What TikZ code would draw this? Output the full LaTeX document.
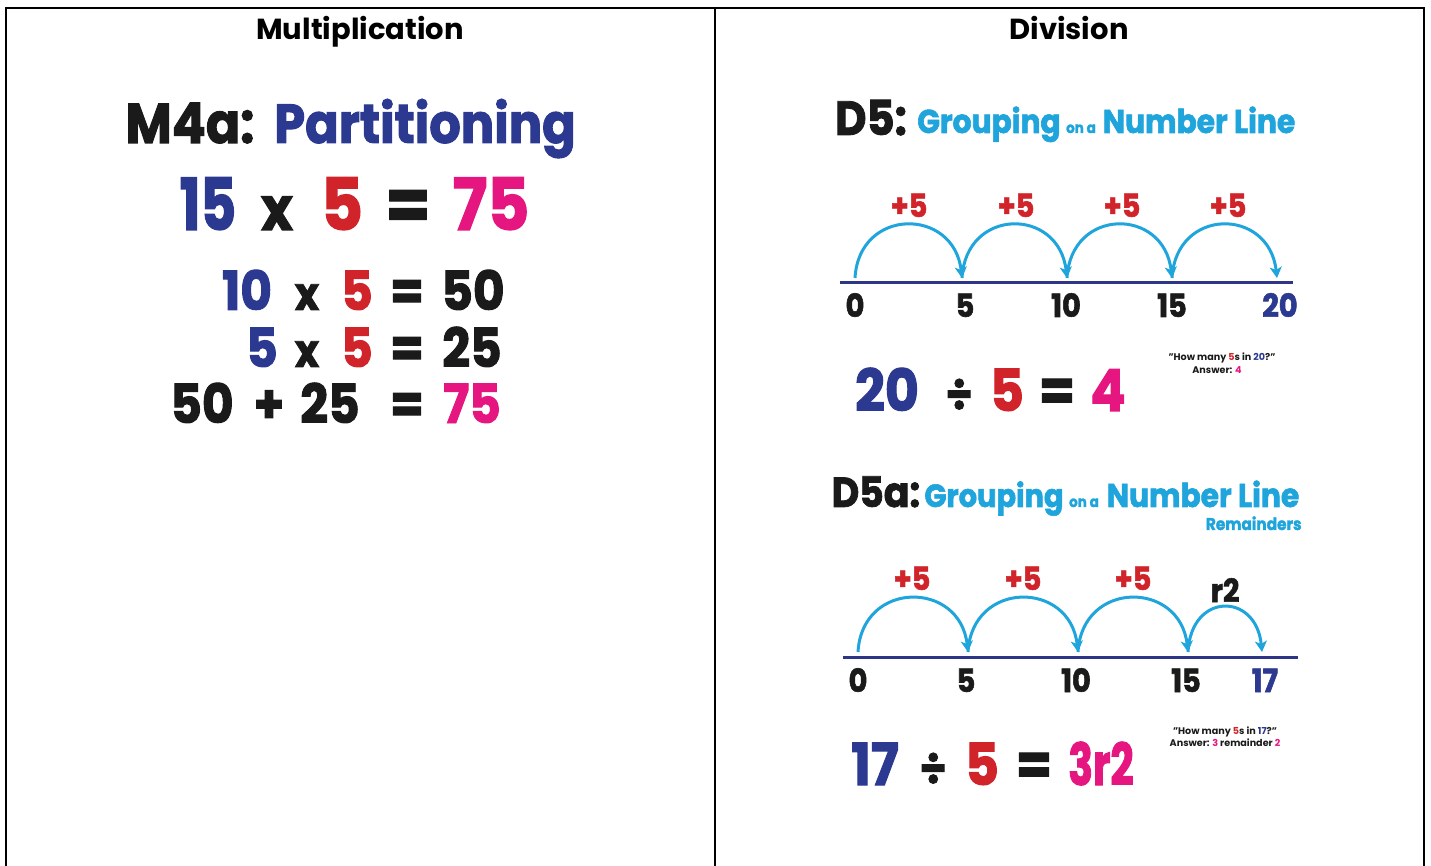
\documentclass[tikz,border=0pt]{standalone}
\usepackage{fontspec}
\setmainfont{Poppins}
\newfontfamily\disp{Poppins}[FakeStretch=0.9,FakeBold=1.8]
\usetikzlibrary{arrows.meta}
\definecolor{dblue}{HTML}{2B3990}
\definecolor{nred}{HTML}{D1232A}
\definecolor{mag}{HTML}{E5167F}
\definecolor{cyanb}{HTML}{1FA4DC}
\definecolor{lineblue}{HTML}{2E3586}
\definecolor{ink}{HTML}{1A1A1A}
\newcommand{\fsz}[1]{\fontsize{#1}{#1}\selectfont}
\tikzset{
  border/.style={line width=1pt, black},
  header/.style={anchor=base, font=\bfseries\fsz{14.5}, text=black, inner sep=0pt},
  dtxt/.style={anchor=base, inner sep=0pt, font=\disp\bfseries\fsz{#1}},
  nline/.style={line width=1.5pt, lineblue},
  jump/.style={line width=1.5pt, cyanb, -{Stealth[length=5.5pt,width=6pt,inset=1.5pt]}},
  small/.style={anchor=base, inner sep=0pt, font=\bfseries\fsz{4.8}, text=ink},
}
\begin{document}
\begin{tikzpicture}[x=0.5pt,y=-0.5pt]
\useasboundingbox (0,0) rectangle (1431,866);
% table borders
\draw[border] (6,866) -- (6,8) -- (1424,8) -- (1424,866);
\draw[border] (715,8) -- (715,866);
% headers
\node[header] (hmul) at (360,40) {Multiplication};
\node[header] (hdiv) at (1069,40) {Division};

% ---------- Multiplication ----------
\node[dtxt=28, text=ink] (m4a) at (190,143) {M4a:};
\node[dtxt=27.5, text=dblue] (part) at (425,143) {Partitioning};

\node[dtxt=36, text=dblue] (e1a) at (208,230) {\scalebox{0.85}[1]{15}};
\node[dtxt=30, text=ink] (e1b) at (277,230) {x};
\node[dtxt=36, text=nred] (e1c) at (342,230) {5};
\node[dtxt=36, text=ink] (e1d) at (408,230) {=};
\node[dtxt=36, text=mag] (e1e) at (491,230) {75};

\node[dtxt=27, text=dblue] (e2a) at (247,310) {10};
\node[dtxt=23, text=ink] (e2b) at (307,310) {x};
\node[dtxt=27, text=nred] (e2c) at (357,310) {5};
\node[dtxt=27, text=ink] (e2d) at (407,310) {=};
\node[dtxt=27, text=ink] (e2e) at (473,310) {50};

\node[dtxt=27, text=dblue] (e3a) at (262,367) {5};
\node[dtxt=23, text=ink] (e3b) at (307,367) {x};
\node[dtxt=27, text=nred] (e3c) at (357,367) {5};
\node[dtxt=27, text=ink] (e3d) at (407,367) {=};
\node[dtxt=27, text=ink] (e3e) at (472,367) {25};

\node[dtxt=27, text=ink] (e4a) at (202,423) {50};
\node[dtxt=27, text=ink] (e4b) at (269,423) {+};
\node[dtxt=27, text=ink] (e4c) at (330,423) {25};
\node[dtxt=27, text=ink] (e4d) at (407,423) {=};
\node[dtxt=27, text=mag] (e4e) at (472,423) {75};

% ---------- Division: D5 ----------
\node[dtxt=24, text=ink] (d5) at (871,135) {D5:};
\node[dtxt=16.5, text=cyanb] (d5g) at (989,133) {Grouping};
\node[dtxt=7.5, text=cyanb] (d5o) at (1081,133) {on a};
\node[dtxt=16.5, text=cyanb] (d5n) at (1199,133) {Number Line};

\coordinate (nlA1) at (840,283);
\coordinate (nlA2) at (1293,283);
\draw[nline] (nlA1) -- (nlA2);
\coordinate (a0) at (855,278);
\coordinate (a5) at (962,278);
\coordinate (a10) at (1067,278);
\coordinate (a15) at (1172,278);
\coordinate (a20) at (1277,278);
\draw[jump] (a0) .. controls +(4,-71) and +(-8,-71) .. (a5);
\draw[jump] (a5) .. controls +(4,-71) and +(-8,-71) .. (a10);
\draw[jump] (a10) .. controls +(4,-71) and +(-8,-71) .. (a15);
\draw[jump] (a15) .. controls +(4,-71) and +(-8,-71) .. (a20);
\node[dtxt=16, text=nred] (pA1) at (909,217) {+5};
\node[dtxt=16, text=nred] (pA2) at (1016,217) {+5};
\node[dtxt=16, text=nred] (pA3) at (1122,217) {+5};
\node[dtxt=16, text=nred] (pA4) at (1228,217) {+5};
\node[dtxt=16, text=ink] (tA0) at (855,317) {0};
\node[dtxt=16, text=ink] (tA5) at (965,317) {5};
\node[dtxt=16, text=ink] (tA10) at (1066,317) {10};
\node[dtxt=16, text=ink] (tA15) at (1172,317) {15};
\node[dtxt=16, text=dblue] (tA20) at (1280,317) {20};

\node[dtxt=29, text=dblue] (q1a) at (887,411) {20};
\node[dtxt=24, text=ink] (q1b) at (959,411) {÷};
\node[dtxt=29, text=nred] (q1c) at (1007,411) {5};
\node[dtxt=29, text=ink] (q1d) at (1057,411) {=};
\node[dtxt=29, text=mag] (q1e) at (1108,411) {4};

\node[small] (s1a) at (1222,361) {"How many \textcolor{nred}{5}s in \textcolor{dblue}{20}?"};
\node[small] (s1b) at (1217,374) {Answer: \textcolor{mag}{4}};

% ---------- Division: D5a ----------
\node[dtxt=21, text=ink] (d5a) at (876,507) {D5a:};
\node[dtxt=16, text=cyanb] (d5ag) at (994,507) {Grouping};
\node[dtxt=7.5, text=cyanb] (d5ao) at (1084,507) {on a};
\node[dtxt=16.5, text=cyanb] (d5an) at (1203,507) {Number Line};
\node[dtxt=8.5, text=cyanb, anchor=base east] (rem) at (1302,530) {Remainders};

\coordinate (nlB1) at (843,657);
\coordinate (nlB2) at (1298,657);
\draw[nline] (nlB1) -- (nlB2);
\coordinate (b0) at (858,652);
\coordinate (b5) at (968,652);
\coordinate (b10) at (1078,652);
\coordinate (b15) at (1188,652);
\coordinate (b17) at (1262,652);
\draw[jump] (b0) .. controls +(4,-72) and +(-8,-72) .. (b5);
\draw[jump] (b5) .. controls +(4,-72) and +(-8,-72) .. (b10);
\draw[jump] (b10) .. controls +(4,-72) and +(-8,-72) .. (b15);
\draw[jump] (b15) .. controls +(3,-60) and +(-6,-60) .. (b17);
\node[dtxt=16, text=nred] (pB1) at (912,590) {+5};
\node[dtxt=16, text=nred] (pB2) at (1023,590) {+5};
\node[dtxt=16, text=nred] (pB3) at (1133,590) {+5};
\node[dtxt=16, text=ink] (pB4) at (1225,602) {r2};
\node[dtxt=16, text=ink] (tB0) at (858,692) {0};
\node[dtxt=16, text=ink] (tB5) at (966,692) {5};
\node[dtxt=16, text=ink] (tB10) at (1076,692) {10};
\node[dtxt=16, text=ink] (tB15) at (1186,692) {15};
\node[dtxt=16, text=dblue] (tB17) at (1265,692) {17};

\node[dtxt=29, text=dblue] (q2a) at (875,785) {17};
\node[dtxt=24, text=ink] (q2b) at (933,785) {÷};
\node[dtxt=29, text=nred] (q2c) at (982,785) {5};
\node[dtxt=29, text=ink] (q2d) at (1034,785) {=};
\node[dtxt=29, text=mag] (q2e) at (1101,785) {\scalebox{0.78}[1]{3r2}};

\node[small] (s2a) at (1225,734) {"How many \textcolor{nred}{5}s in \textcolor{dblue}{17}?"};
\node[small] (s2b) at (1225,746) {Answer: \textcolor{mag}{3} remainder \textcolor{mag}{2}};
\end{tikzpicture}
\end{document}
